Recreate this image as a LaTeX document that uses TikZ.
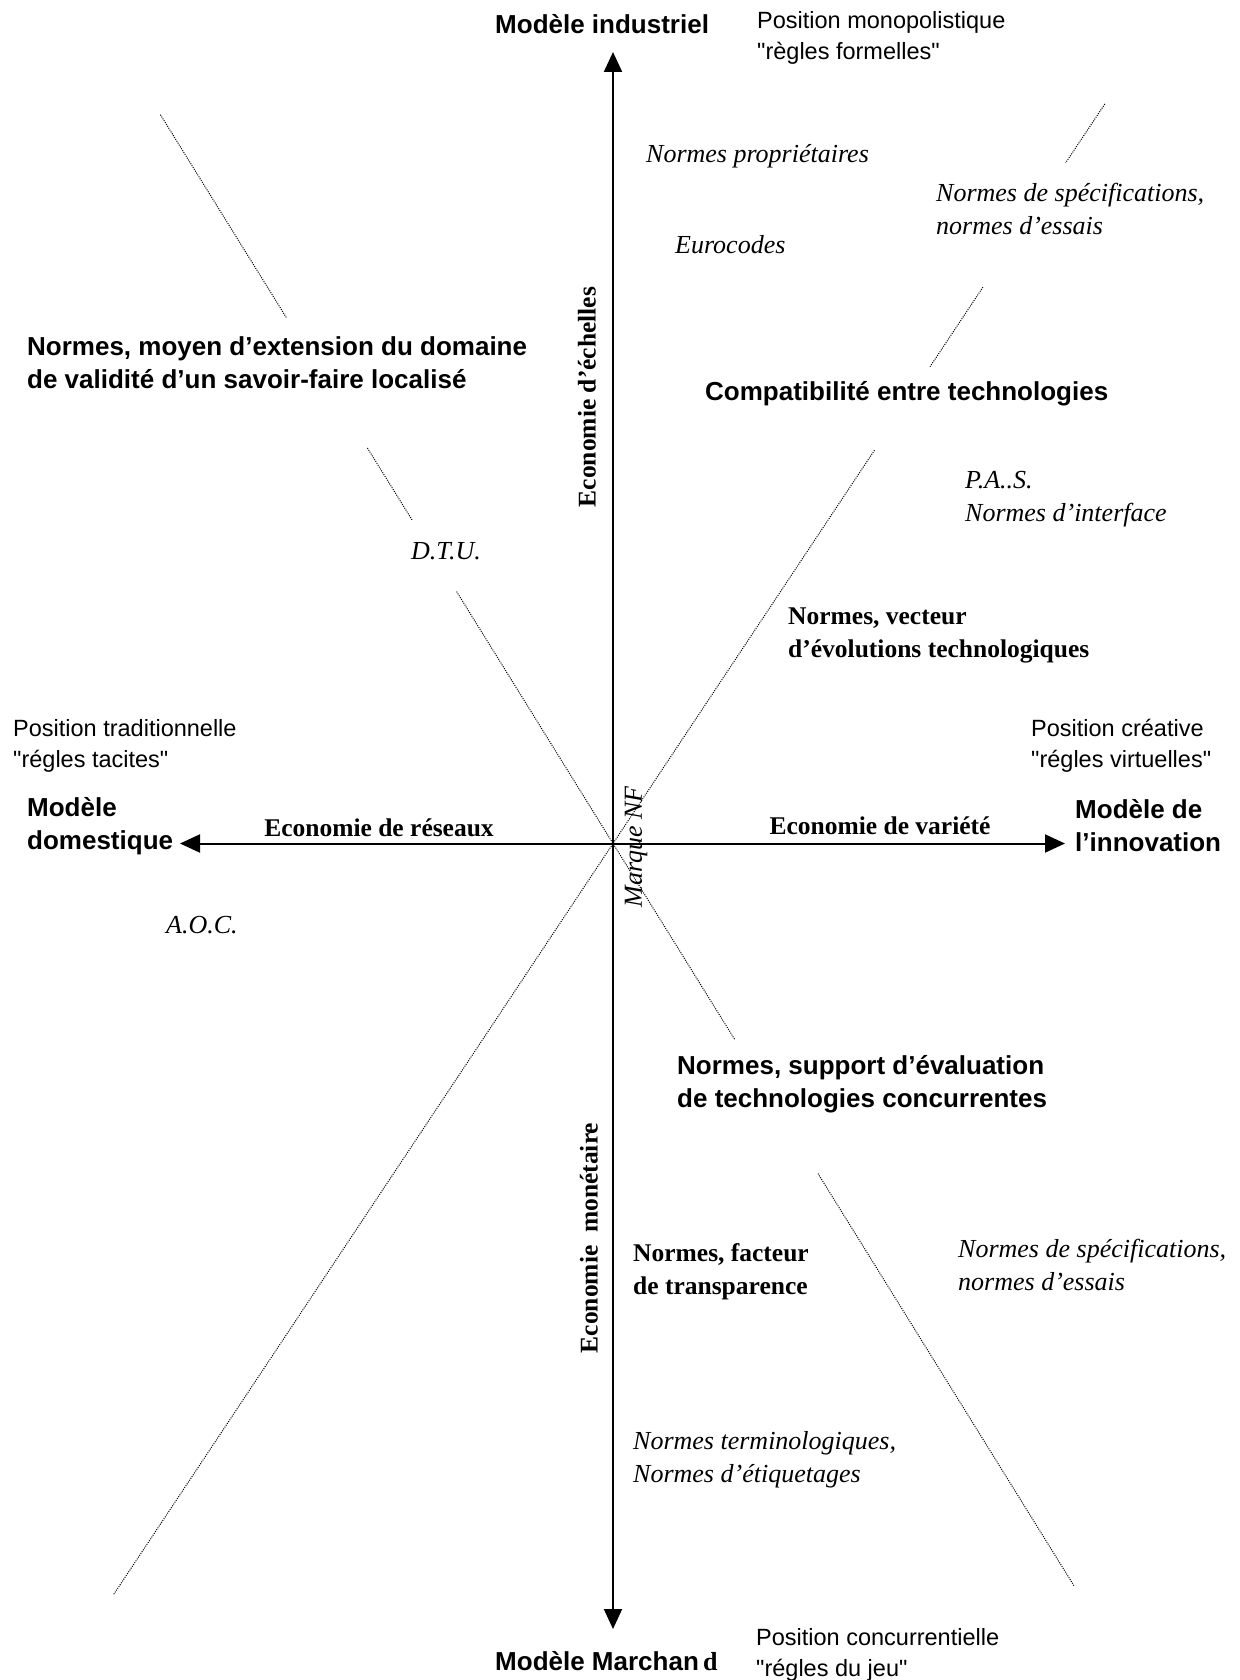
\documentclass[tikz,border=0pt]{standalone}
\usepackage{fontspec}
\setmainfont{Liberation Serif}
\setsansfont{Liberation Sans}[Ligatures=TeXOff]
\usetikzlibrary{arrows.meta}

\begin{document}
\begin{tikzpicture}[x=1pt, y=-1pt,
	axe/.style={line width=2pt, -{Triangle[length=20pt, width=18pt]}},
	pointille/.style={dash pattern=on 1pt off 1.2pt, line width=1pt},
	modele/.style={font=\sffamily\bfseries\fontsize{26}{33}\selectfont, inner sep=0pt, align=left},
	position/.style={font=\sffamily\fontsize{23.5}{31}\selectfont, inner sep=0pt, align=left},
	exemple/.style={font=\itshape\fontsize{26}{33}\selectfont, inner sep=0pt, align=left},
	economie/.style={font=\bfseries\fontsize{25.5}{33}\selectfont, inner sep=0pt, align=left}]
			%%%%% START %%%%%
			\useasboundingbox (0, 0) rectangle (1239, 1680);
			
			\coordinate (O) at (613, 843.5);
			\coordinate (haut) at (613, 52);
			\coordinate (bas) at (613, 1629);
			\coordinate (gauche) at (180, 843.5);
			\coordinate (droite) at (1065, 843.5);
			
			\draw[axe] (O) -- (haut);
			\draw[axe] (O) -- (bas);
			\draw[axe] (O) -- (gauche);
			\draw[axe] (O) -- (droite);
			
			% diagonale descendante
			\draw[pointille] (160.4, 114.7) -- (286.8, 318.3);
			\draw[pointille] (367.4, 448) -- (412, 519.8);
			\draw[pointille] (456.6, 591.6) -- (O) -- (734.8, 1039.6);
			\draw[pointille] (818, 1173.6) -- (1074.3, 1586.3);
			
			% diagonale montante
			\draw[pointille] (1104.8, 104) -- (1065.6, 162.9);
			\draw[pointille] (982.9, 287.2) -- (930.1, 366.6);
			\draw[pointille] (874.5, 450.2) -- (O) -- (113.4, 1594.8);
			
			% pôles
			\node[modele, anchor=west] (industriel) at (495, 24) {Modèle industriel};
			\node[position, anchor=west] (monopole) at (757, 38) {Position monopolistique\\"règles formelles"};
			\node[modele, anchor=west] (domestique) at (27, 826) {Modèle\\domestique};
			\node[position, anchor=west] (traditionnelle) at (13, 745.5) {Position traditionnelle\\"régles tacites"};
			\node[modele, anchor=west] (innovation) at (1075, 826) {Modèle de\\l’innovation};
			\node[position, anchor=west] (creative) at (1031, 745.5) {Position créative\\"régles virtuelles"};
			\node[modele, anchor=west] (marchand) at (495, 1661) {Modèle Marchan\,{\rmfamily d}};
			\node[position, anchor=west] (concurrentielle) at (756, 1655) {Position concurrentielle\\"régles du jeu"};
			
			% économies
			\node[economie, rotate=90] (echelles) at (587, 397) {Economie d’échelles};
			\node[economie, rotate=90] (monetaire) at (589, 1238) {Economie\ \ monétaire};
			\node[economie] (reseaux) at (379, 828) {Economie de réseaux};
			\node[economie] (variete) at (880, 826) {Economie de variété};
			\node[exemple, rotate=90] (marque) at (636, 847) {Marque NF};
			
			% rôles des normes
			\node[modele, anchor=west] (savoir) at (27, 362.5) {Normes, moyen d’extension du domaine\\de validité d’un savoir-faire localisé};
			\node[modele, anchor=west] (compat) at (705, 394) {Compatibilité entre technologies};
			\node[economie, anchor=west] (vecteur) at (788, 635) {Normes, vecteur\\d’évolutions technologiques};
			\node[modele, anchor=west] (support) at (677, 1084) {Normes, support d’évaluation\\de technologies concurrentes};
			\node[economie, anchor=west] (transparence) at (633, 1272) {Normes, facteur\\de transparence};
			
			% exemples
			\node[exemple, anchor=west] (proprietaires) at (646, 156) {Normes propriétaires};
			\node[exemple, anchor=west] (specif) at (936, 208.5) {Normes de spécifications,\\normes d’essais};
			\node[exemple, anchor=west] (eurocodes) at (675, 245) {Eurocodes};
			\node[exemple] (dtu) at (446, 551) {D.T.U.};
			\node[exemple, anchor=west] (pas) at (965, 499.5) {P.A..S.\\Normes d’interface};
			\node[exemple, anchor=west] (aoc) at (166, 925) {A.O.C.};
			\node[exemple, anchor=west] (essais) at (958, 1265) {Normes de spécifications,\\normes d’essais};
			\node[exemple, anchor=west] (terminologie) at (633, 1460) {Normes terminologiques,\\Normes d’étiquetages};
			%%%%% END %%%%%
\end{tikzpicture}
\end{document}
